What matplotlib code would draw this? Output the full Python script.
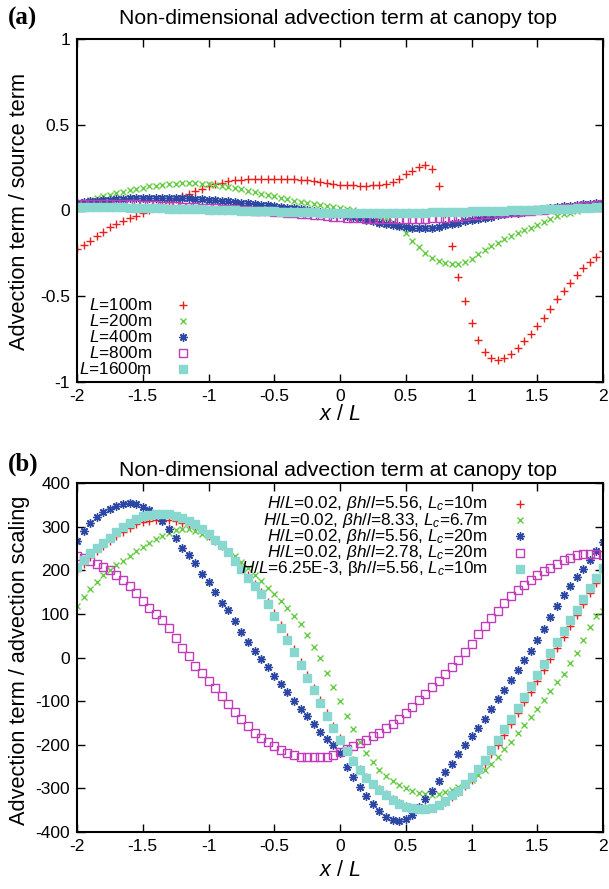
import numpy as np
import matplotlib
matplotlib.use("Agg")
import matplotlib.pyplot as plt
from matplotlib.ticker import FuncFormatter

plt.rcParams["font.family"] = ["Liberation Sans", "DejaVu Sans"]
plt.rcParams["mathtext.fontset"] = "custom"
plt.rcParams["mathtext.rm"] = "Liberation Sans"
plt.rcParams["mathtext.it"] = "Liberation Sans:italic"
plt.rcParams["axes.unicode_minus"] = False

# sample positions x/L (both panels)
x_a = np.round(np.linspace(-2, 2, 81), 2)
x_b = np.round(np.linspace(-2, 2, 81), 2)

# ---- panel (a): advection term / source term ----
a_L100 = [-0.225, -0.20, -0.175, -0.15, -0.125, -0.095, -0.078, -0.062, -0.046, -0.03,
          -0.013, 0.003, 0.018, 0.034, 0.05, 0.066, 0.082, 0.098, 0.114, 0.128,
          0.14, 0.152, 0.162, 0.17, 0.175, 0.179, 0.182, 0.184, 0.186, 0.186,
          0.186, 0.185, 0.184, 0.182, 0.18, 0.176, 0.17, 0.164, 0.158, 0.153,
          0.15, 0.148, 0.146, 0.145, 0.145, 0.146, 0.149, 0.155, 0.167, 0.185,
          0.21, 0.233, 0.255, 0.267, 0.24, 0.14, -0.02, -0.205, -0.385, -0.53,
          -0.655, -0.753, -0.823, -0.86, -0.872, -0.858, -0.834, -0.80, -0.762, -0.722,
          -0.674, -0.625, -0.573, -0.515, -0.468, -0.422, -0.377, -0.335, -0.30, -0.27,
          -0.235]
a_L200 = [0.035, 0.05, 0.063, 0.073, 0.083, 0.093, 0.102, 0.11, 0.118, 0.126,
          0.134, 0.14, 0.145, 0.15, 0.153, 0.156, 0.158, 0.159, 0.158, 0.156,
          0.154, 0.15, 0.145, 0.139, 0.132, 0.124, 0.116, 0.107, 0.098, 0.09,
          0.082, 0.074, 0.066, 0.057, 0.05, 0.043, 0.037, 0.032, 0.028, 0.023,
          0.017, 0.01, 0.002, -0.008, -0.018, -0.027, -0.036, -0.046, -0.065, -0.095,
          -0.13, -0.18, -0.215, -0.25, -0.275, -0.295, -0.308, -0.314, -0.312, -0.302,
          -0.28, -0.255, -0.23, -0.208, -0.188, -0.168, -0.148, -0.13, -0.116, -0.10,
          -0.083, -0.065, -0.047, -0.032, -0.022, -0.012, -0.002, 0.008, 0.015, 0.02,
          0.025]
a_L400 = [0.045, 0.05, 0.055, 0.058, 0.06, 0.063, 0.066, 0.068, 0.07, 0.072,
          0.073, 0.074, 0.075, 0.075, 0.075, 0.074, 0.073, 0.071, 0.069, 0.066,
          0.063, 0.06, 0.057, 0.054, 0.05, 0.046, 0.042, 0.038, 0.034, 0.03,
          0.026, 0.022, 0.017, 0.012, 0.007, 0.002, -0.003, -0.008, -0.013, -0.018,
          -0.023, -0.03, -0.038, -0.046, -0.054, -0.062, -0.07, -0.078, -0.086, -0.093,
          -0.098, -0.102, -0.104, -0.104, -0.10, -0.094, -0.087, -0.08, -0.072, -0.064,
          -0.056, -0.049, -0.042, -0.035, -0.029, -0.023, -0.017, -0.012, -0.006, -0.001,
          0.004, 0.009, 0.014, 0.019, 0.024, 0.028, 0.032, 0.036, 0.039, 0.042,
          0.045]
a_L800 = [0.035, 0.037, 0.038, 0.039, 0.039, 0.039, 0.038, 0.037, 0.036, 0.035,
          0.034, 0.032, 0.03, 0.028, 0.026, 0.024, 0.022, 0.02, 0.018, 0.016,
          0.014, 0.012, 0.01, 0.008, 0.006, 0.004, 0.002, 0.0, -0.002, -0.005,
          -0.008, -0.011, -0.014, -0.017, -0.02, -0.023, -0.026, -0.029, -0.032, -0.035,
          -0.038, -0.041, -0.043, -0.045, -0.047, -0.048, -0.049, -0.05, -0.05, -0.05,
          -0.05, -0.049, -0.048, -0.047, -0.045, -0.043, -0.041, -0.038, -0.035, -0.032,
          -0.029, -0.026, -0.023, -0.02, -0.017, -0.014, -0.011, -0.008, -0.005, -0.002,
          0.001, 0.004, 0.007, 0.01, 0.013, 0.017, 0.021, 0.025, 0.028, 0.031,
          0.035]
a_L1600 = [0.02, 0.02, 0.02, 0.02, 0.019, 0.019, 0.018, 0.018, 0.017, 0.016,
           0.015, 0.014, 0.013, 0.012, 0.011, 0.01, 0.009, 0.008, 0.007, 0.006,
           0.005, 0.004, 0.003, 0.002, 0.001, 0.0, -0.001, -0.002, -0.003, -0.004,
           -0.005, -0.006, -0.007, -0.008, -0.009, -0.01, -0.011, -0.012, -0.013, -0.013,
           -0.014, -0.014, -0.015, -0.015, -0.015, -0.015, -0.015, -0.015, -0.015, -0.014,
           -0.014, -0.013, -0.013, -0.012, -0.011, -0.01, -0.009, -0.008, -0.007, -0.006,
           -0.005, -0.004, -0.003, -0.002, -0.001, 0.0, 0.001, 0.002, 0.003, 0.004,
           0.005, 0.006, 0.007, 0.008, 0.01, 0.011, 0.013, 0.014, 0.016, 0.018,
           0.02]

# ---- panel (b): advection term / advection scaling ----
b_red = [198, 215, 231, 244, 256, 267, 278, 288, 297, 305,
         311, 314, 316, 316, 315, 313, 309, 304, 298, 289,
         279, 268, 256, 241, 224, 206, 188, 169, 150, 127,
         102, 75, 47, 19, -10, -40, -69, -98, -127, -156,
         -184, -210, -234, -255, -273, -289, -302, -314, -324, -333,
         -340, -344, -346, -346, -344, -339, -331, -320, -308, -295,
         -280, -262, -243, -222, -200, -177, -153, -128, -103, -78,
         -53, -28, -3, 22, 47, 72, 97, 122, 147, 171,
         195]
b_green = [118, 138, 158, 174, 188, 200, 211, 222, 232, 243,
           253, 262, 271, 279, 286, 292, 295, 295, 290, 282,
           276, 266, 257, 244, 232, 220, 205, 190, 175, 160,
           145, 130, 113, 96, 76, 52, 25, -2, -35, -68,
           -100, -135, -163, -193, -218, -240, -258, -271, -282, -292,
           -300, -306, -311, -314, -315, -313, -309, -304, -297, -290,
           -281, -270, -257, -243, -227, -210, -193, -174, -155, -137,
           -118, -97, -76, -56, -37, -12, 10, 40, 70, 96,
           106]
b_blue = [268, 290, 308, 322, 333, 341, 348, 352, 354, 352,
          346, 337, 326, 312, 295, 274, 252, 234, 216, 192,
          172, 149, 125, 108, 83, 58, 36, 16, -3, -22,
          -42, -61, -80, -99, -117, -135, -153, -170, -187, -200,
          -218, -250, -275, -297, -317, -336, -353, -365, -372, -375,
          -371, -360, -343, -325, -307, -284, -262, -243, -222, -201,
          -181, -161, -140, -119, -96, -74, -51, -29, -6, 16,
          39, 66, 93, 118, 143, 164, 185, 204, 223, 245,
          265]
b_magenta = [233, 228, 222, 215, 208, 200, 190, 178, 164, 148,
             130, 113, 100, 86, 67, 45, 21, 3, -19, -36,
             -53, -70, -88, -107, -125, -142, -158, -172, -184, -194,
             -203, -211, -218, -224, -228, -229, -229, -229, -227, -223,
             -217, -210, -203, -196, -189, -181, -172, -161, -152, -141,
             -127, -113, -98, -83, -68, -53, -38, -22, -6, 12,
             32, 54, 73, 90, 107, 124, 140, 154, 167, 178,
             189, 198, 206, 215, 223, 229, 234, 237, 238, 237,
             234]
b_cyan = [207, 224, 240, 252, 263, 275, 287, 299, 309, 318,
          324, 327, 329, 329, 328, 325, 320, 313, 305, 294,
          282, 270, 257, 241, 221, 202, 183, 165, 146, 122,
          96, 68, 40, 12, -17, -46, -75, -104, -133, -162,
          -190, -215, -238, -258, -276, -290, -303, -315, -326, -335,
          -342, -346, -348, -348, -345, -338, -328, -316, -305, -290,
          -274, -255, -235, -213, -190, -165, -140, -115, -90, -65,
          -40, -15, 10, 35, 60, 85, 110, 135, 160, 183,
          205]

labels_a = [r"$L$=100m", r"$L$=200m", r"$L$=400m", r"$L$=800m", r"$L$=1600m"]
labels_b = [r"$H/L$=0.02, $\beta h/l$=5.56, $L_c$=10m",
            r"$H/L$=0.02, $\beta h/l$=8.33, $L_c$=6.7m",
            r"$H/L$=0.02, $\beta h/l$=5.56, $L_c$=20m",
            r"$H/L$=0.02, $\beta h/l$=2.78, $L_c$=20m",
            r"$H/L$=6.25E-3, β$h/l$=5.56, $L_c$=10m"]

xticks = [-2, -1.5, -1, -0.5, 0, 0.5, 1, 1.5, 2]
yticks_a = [-1, -0.5, 0, 0.5, 1]
yticks_b = [-400, -300, -200, -100, 0, 100, 200, 300, 400]

RED, GREEN, BLUE, MAGENTA, CYAN = "#e8201c", "#66cc44", "#2c48a4", "#c03cb8", "#88d8d0"
STYLES = [
    dict(marker="+", color=RED, mew=1.0, ms=6, ls="none"),
    dict(marker="x", color=GREEN, mew=1.0, ms=5, ls="none"),
    dict(marker=(8, 2, 0), color=BLUE, mew=1.0, ms=6, ls="none"),
    dict(marker="s", mfc="none", mec=MAGENTA, mew=1.0, ms=6, ls="none"),
    dict(marker="s", color=CYAN, mec=CYAN, ms=6, ls="none"),
]

fig = plt.figure(figsize=(6.09, 8.89), dpi=100)
ax_a = fig.add_axes([77 / 609, 1 - 382 / 889, 526 / 609, 343 / 889])
ax_b = fig.add_axes([77 / 609, 1 - 832 / 889, 526 / 609, 349 / 889])

for series, st in zip([a_L100, a_L200, a_L400, a_L800, a_L1600], STYLES):
    ax_a.plot(x_a, series, **st)
for series, st in zip([b_red, b_green, b_blue, b_magenta, b_cyan], STYLES):
    ax_b.plot(x_b, series, **st)

fmt = FuncFormatter(lambda v, p: "%g" % v)
for ax, yt in [(ax_a, yticks_a), (ax_b, yticks_b)]:
    ax.set_xlim(-2, 2)
    ax.set_ylim(yt[0], yt[-1])
    ax.set_xticks(xticks)
    ax.set_yticks(yt)
    ax.xaxis.set_major_formatter(fmt)
    ax.yaxis.set_major_formatter(fmt)
    ax.tick_params(direction="in", top=True, right=True, length=6, width=1.0,
                   labelsize=12.5, pad=5)
    for s in ax.spines.values():
        s.set_linewidth(1.5)

# gnuplot style keys: right-aligned text with sample marker
for i, (lab, st) in enumerate(zip(labels_a, STYLES)):
    y = 0.2245 - i * 0.0466
    ax_a.text(0.1426, y, lab, transform=ax_a.transAxes, ha="right", va="center", fontsize=12.3)
    ax_a.plot([0.2015], [y], transform=ax_a.transAxes, **st)
for i, (lab, st) in enumerate(zip(labels_b, STYLES)):
    y = 0.94 - i * 0.0465
    ax_b.text(0.781, y, lab, transform=ax_b.transAxes, ha="right", va="center", fontsize=12.3)
    ax_b.plot([0.842], [y], transform=ax_b.transAxes, **st)

title = "Non-dimensional advection term at canopy top"
fig.text(338 / 609, 1 - 18 / 889, title, ha="center", va="center", fontsize=15.3)
fig.text(338 / 609, 1 - 471 / 889, title, ha="center", va="center", fontsize=15.3)
fig.text(8 / 609, 1 - 18 / 889, "(a)", ha="left", va="center", fontsize=18,
         fontweight="bold", family="Liberation Serif")
fig.text(8 / 609, 1 - 464 / 889, "(b)", ha="left", va="center", fontsize=18,
         fontweight="bold", family="Liberation Serif")
fig.text(20 / 609, 1 - 212 / 889, "Advection term / source term", rotation=90,
         ha="center", va="center", fontsize=15.7)
fig.text(20 / 609, 1 - 660 / 889, "Advection term / advection scaling", rotation=90,
         ha="center", va="center", fontsize=15.7)
fig.text(340 / 609, 1 - 415 / 889, r"$x$ / $L$", ha="center", va="center", fontsize=15.5)
fig.text(340 / 609, 1 - 871 / 889, r"$x$ / $L$", ha="center", va="center", fontsize=15.5)

fig.savefig("out.png", dpi=100)
